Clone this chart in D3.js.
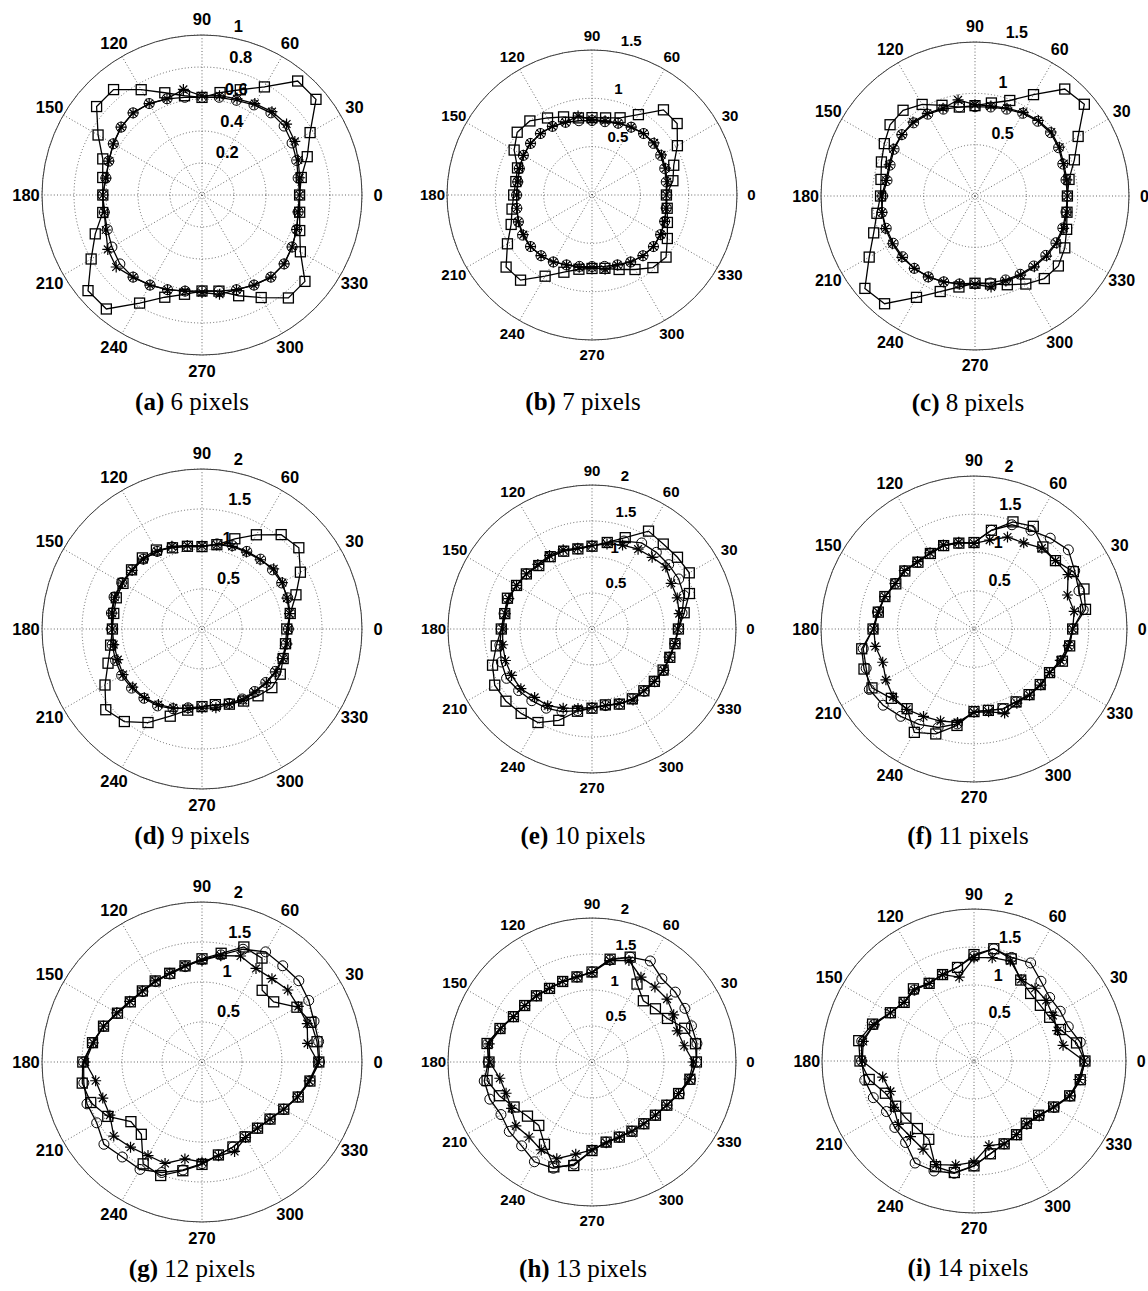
<!DOCTYPE html>
<html lang="en">
<head>
<meta charset="UTF-8">
<script src="https://d3js.org/d3.v7.min.js"></script>
<title>Polar plots</title>
<style>
  body { margin: 0; background: #fff; }
  .ang, .rtick { font-family: "Liberation Sans", Arial, sans-serif; font-weight: bold; fill: #000; }
  .cap { font-family: "Liberation Serif", "Times New Roman", serif; font-size: 25px; fill: #000; }
</style>
</head>
<body>
<svg id="fig" width="1148" height="1291"></svg>
<script>

// measured directions (degrees)
var angles = [0,10,20,30,40,50,60,70,80,90,100,110,120,130,140,150,160,170,
              180,190,200,210,220,230,240,250,260,270,280,290,300,310,320,330,340,350];

// angular tick labels
var angleTicks = [0,30,60,90,120,150,180,210,240,270,300,330];

// radial tick labels
var rTicks1 = [0.2,0.4,0.6,0.8,1];
var rTicks15 = [0.5,1,1.5];
var rTicks2 = [0.5,1,1.5,2];

// captions
var capLetters = ["(a)","(b)","(c)","(d)","(e)","(f)","(g)","(h)","(i)"];
var capTexts = ["6 pixels","7 pixels","8 pixels","9 pixels","10 pixels","11 pixels","12 pixels","13 pixels","14 pixels"];

// series per panel: sq = squares, ci = circles, st = stars
var sqA = [0.61,0.63,0.70,0.78,0.93,0.93,0.78,0.70,0.65,0.61,0.63,0.68,0.76,0.86,0.86,0.75,0.66,0.63,0.62,0.63,0.71,0.80,0.93,0.93,0.78,0.68,0.63,0.60,0.61,0.67,0.74,0.84,0.84,0.71,0.65,0.62];
var ciA = [0.61,0.61,0.63,0.65,0.67,0.67,0.65,0.63,0.62,0.61,0.62,0.64,0.66,0.67,0.66,0.64,0.62,0.61,0.62,0.62,0.63,0.65,0.67,0.67,0.65,0.63,0.61,0.60,0.61,0.63,0.65,0.67,0.67,0.65,0.63,0.61];
var stA = [0.61,0.62,0.64,0.67,0.69,0.68,0.66,0.64,0.63,0.62,0.67,0.64,0.66,0.67,0.66,0.64,0.62,0.61,0.62,0.62,0.64,0.68,0.70,0.67,0.65,0.63,0.61,0.61,0.63,0.63,0.65,0.67,0.67,0.65,0.63,0.61];

var sqB = [0.77,0.85,0.90,1.02,1.15,1.15,0.96,0.85,0.81,0.80,0.81,0.86,0.92,1.00,1.01,0.93,0.82,0.80,0.81,0.84,0.89,1.01,1.16,1.15,0.97,0.85,0.78,0.76,0.77,0.82,0.89,0.98,1.00,0.90,0.83,0.79];
var ciB = [0.77,0.78,0.80,0.82,0.83,0.83,0.81,0.79,0.77,0.77,0.78,0.80,0.82,0.83,0.83,0.82,0.80,0.78,0.78,0.79,0.81,0.83,0.83,0.82,0.80,0.77,0.75,0.74,0.75,0.77,0.80,0.82,0.83,0.82,0.80,0.78];
var stB = [0.77,0.79,0.81,0.83,0.84,0.83,0.81,0.79,0.78,0.78,0.83,0.80,0.82,0.83,0.83,0.82,0.80,0.78,0.78,0.79,0.81,0.82,0.83,0.82,0.80,0.77,0.76,0.75,0.78,0.77,0.80,0.82,0.83,0.82,0.80,0.78];

var sqC = [0.90,0.93,1.03,1.16,1.39,1.36,1.14,0.99,0.92,0.88,0.88,0.94,1.03,1.09,1.08,1.02,0.97,0.93,0.92,0.97,1.05,1.19,1.40,1.37,1.14,0.99,0.90,0.85,0.87,0.92,0.99,1.05,1.06,1.01,0.95,0.91];
var ciC = [0.90,0.90,0.91,0.94,0.96,0.95,0.93,0.90,0.88,0.87,0.88,0.90,0.92,0.93,0.93,0.91,0.88,0.87,0.90,0.92,0.92,0.92,0.92,0.92,0.91,0.89,0.87,0.85,0.86,0.87,0.88,0.89,0.90,0.91,0.91,0.90];
var stC = [0.90,0.91,0.92,0.95,0.97,0.96,0.94,0.91,0.89,0.89,0.95,0.91,0.93,0.94,0.93,0.92,0.89,0.88,0.91,0.92,0.93,0.93,0.93,0.92,0.91,0.89,0.87,0.86,0.90,0.88,0.89,0.90,0.91,0.92,0.92,0.91];

var sqD = [1.06,1.12,1.25,1.42,1.58,1.54,1.36,1.20,1.07,1.03,1.05,1.08,1.14,1.16,1.15,1.14,1.14,1.12,1.12,1.16,1.25,1.40,1.57,1.51,1.35,1.16,1.03,0.97,0.96,1.00,1.04,1.09,1.14,1.13,1.08,1.06];
var ciD = [1.08,1.12,1.14,1.15,1.15,1.14,1.12,1.11,1.08,1.03,1.05,1.09,1.12,1.14,1.15,1.16,1.17,1.15,1.13,1.14,1.15,1.16,1.15,1.13,1.11,1.06,1.00,0.97,0.97,0.99,1.01,1.02,1.04,1.06,1.07,1.07];
var stD = [1.08,1.11,1.13,1.16,1.17,1.13,1.11,1.10,1.07,1.04,1.06,1.10,1.12,1.14,1.14,1.15,1.16,1.14,1.12,1.12,1.12,1.14,1.13,1.12,1.09,1.05,1.01,0.99,1.00,1.00,1.03,1.03,1.05,1.07,1.08,1.08];

var sqE = [1.20,1.30,1.44,1.56,1.55,1.54,1.57,1.35,1.22,1.15,1.13,1.15,1.16,1.15,1.19,1.21,1.25,1.23,1.26,1.35,1.47,1.56,1.56,1.53,1.50,1.35,1.16,1.10,1.07,1.11,1.12,1.12,1.13,1.14,1.15,1.17];
var ciE = [1.20,1.27,1.36,1.39,1.39,1.39,1.38,1.30,1.22,1.15,1.13,1.15,1.16,1.15,1.19,1.21,1.24,1.24,1.26,1.30,1.34,1.37,1.33,1.30,1.27,1.22,1.15,1.10,1.08,1.11,1.12,1.13,1.14,1.15,1.15,1.17];
var stE = [1.19,1.23,1.26,1.27,1.34,1.30,1.28,1.24,1.20,1.16,1.14,1.17,1.18,1.17,1.19,1.21,1.23,1.22,1.24,1.26,1.28,1.29,1.29,1.24,1.23,1.17,1.12,1.09,1.08,1.10,1.14,1.12,1.13,1.15,1.14,1.17];

var sqF = [1.29,1.48,1.53,1.50,1.39,1.40,1.55,1.49,1.31,1.13,1.14,1.16,1.14,1.14,1.18,1.18,1.24,1.27,1.32,1.49,1.53,1.54,1.41,1.36,1.56,1.46,1.28,1.08,1.08,1.11,1.10,1.12,1.13,1.14,1.23,1.27];
var ciF = [1.29,1.45,1.46,1.52,1.61,1.55,1.49,1.45,1.31,1.13,1.14,1.16,1.14,1.14,1.18,1.19,1.24,1.28,1.32,1.47,1.50,1.58,1.55,1.49,1.44,1.37,1.26,1.08,1.08,1.11,1.10,1.12,1.13,1.14,1.22,1.26];
var stF = [1.29,1.33,1.30,1.42,1.39,1.38,1.30,1.28,1.18,1.12,1.15,1.17,1.15,1.15,1.19,1.19,1.24,1.27,1.31,1.31,1.27,1.33,1.38,1.37,1.32,1.28,1.24,1.09,1.10,1.17,1.12,1.13,1.14,1.14,1.20,1.25];

var sqG = [1.46,1.46,1.45,1.37,1.17,1.17,1.50,1.53,1.38,1.29,1.22,1.18,1.17,1.16,1.17,1.22,1.31,1.39,1.49,1.52,1.48,1.36,1.16,1.18,1.47,1.51,1.38,1.28,1.18,1.13,1.08,1.08,1.11,1.18,1.28,1.37];
var ciG = [1.47,1.48,1.49,1.54,1.58,1.57,1.59,1.50,1.36,1.28,1.21,1.17,1.16,1.15,1.17,1.22,1.31,1.39,1.48,1.50,1.53,1.52,1.60,1.55,1.55,1.47,1.37,1.27,1.18,1.13,1.08,1.08,1.11,1.18,1.28,1.37];
var stG = [1.45,1.34,1.40,1.39,1.40,1.36,1.35,1.41,1.35,1.27,1.22,1.18,1.17,1.16,1.18,1.23,1.31,1.38,1.46,1.35,1.32,1.33,1.44,1.39,1.35,1.35,1.23,1.25,1.19,1.19,1.09,1.08,1.11,1.18,1.27,1.36];

var sqH = [1.45,1.46,1.37,1.21,1.15,1.11,1.25,1.55,1.45,1.25,1.20,1.19,1.18,1.20,1.22,1.26,1.36,1.48,1.43,1.48,1.37,1.25,1.17,1.15,1.32,1.55,1.46,1.23,1.13,1.11,1.11,1.12,1.15,1.20,1.28,1.38];
var ciH = [1.45,1.48,1.47,1.49,1.51,1.51,1.62,1.55,1.44,1.25,1.20,1.19,1.18,1.20,1.22,1.26,1.36,1.47,1.44,1.52,1.51,1.46,1.50,1.52,1.60,1.57,1.44,1.23,1.13,1.11,1.11,1.12,1.15,1.20,1.29,1.39];
var stH = [1.41,1.30,1.26,1.31,1.36,1.36,1.36,1.50,1.43,1.24,1.20,1.19,1.18,1.20,1.22,1.26,1.35,1.45,1.42,1.30,1.27,1.29,1.38,1.36,1.41,1.43,1.30,1.22,1.14,1.11,1.11,1.12,1.15,1.20,1.28,1.37];

var sqI = [1.46,1.37,1.21,1.15,1.14,1.16,1.23,1.43,1.50,1.40,1.25,1.21,1.18,1.24,1.20,1.27,1.42,1.54,1.50,1.40,1.24,1.19,1.17,1.16,1.19,1.48,1.49,1.38,1.24,1.16,1.12,1.07,1.11,1.21,1.34,1.42];
var ciI = [1.46,1.42,1.32,1.31,1.30,1.37,1.49,1.45,1.50,1.38,1.25,1.21,1.18,1.22,1.20,1.27,1.40,1.50,1.48,1.46,1.41,1.33,1.36,1.40,1.55,1.54,1.50,1.38,1.24,1.16,1.12,1.08,1.12,1.22,1.35,1.42];
var stI = [1.45,1.19,1.17,1.20,1.24,1.25,1.24,1.40,1.38,1.36,1.12,1.21,1.18,1.22,1.20,1.27,1.40,1.48,1.47,1.22,1.17,1.22,1.30,1.30,1.34,1.45,1.39,1.33,1.13,1.16,1.12,1.08,1.12,1.21,1.34,1.40];

// panel table built from the arrays above
var panels = [
    {ticks: rTicks1,  sq: sqA, ci: ciA, st: stA},
    {ticks: rTicks15, sq: sqB, ci: ciB, st: stB},
    {ticks: rTicks15, sq: sqC, ci: ciC, st: stC},
    {ticks: rTicks2,  sq: sqD, ci: ciD, st: stD},
    {ticks: rTicks2,  sq: sqE, ci: ciE, st: stE},
    {ticks: rTicks2,  sq: sqF, ci: ciF, st: stF},
    {ticks: rTicks2,  sq: sqG, ci: ciG, st: stG},
    {ticks: rTicks2,  sq: sqH, ci: ciH, st: stH},
    {ticks: rTicks2,  sq: sqI, ci: ciI, st: stI}
];

// placement of each polar axes on the page
var layout = [
    {cx: 202, cy: 195,  R: 160, fs: 16.5, capX: 192},
    {cx: 592, cy: 195,  R: 145, fs: 15,   capX: 583},
    {cx: 975, cy: 196,  R: 154, fs: 16,   capX: 968},
    {cx: 202, cy: 629,  R: 160, fs: 16.5, capX: 192},
    {cx: 592, cy: 629,  R: 144, fs: 15,   capX: 583},
    {cx: 974, cy: 629,  R: 153, fs: 16,   capX: 968},
    {cx: 202, cy: 1062, R: 160, fs: 16.5, capX: 192},
    {cx: 592, cy: 1062, R: 144, fs: 15,   capX: 583},
    {cx: 974, cy: 1061, R: 152, fs: 16,   capX: 968}
];

var svg = d3.select("#fig");

// degrees (counter-clockwise from east) -> d3 radial angle (clockwise from north)
var theta = d3.scaleLinear().domain([0, 360]).range([Math.PI / 2, Math.PI / 2 - 2 * Math.PI]);

var starPath = "M-5.5,0H5.5M0,-5.5V5.5M-3.9,-3.9L3.9,3.9M-3.9,3.9L3.9,-3.9";

panels.forEach(function(p, i) {
    var L = layout[i];
    var rmax = p.ticks[p.ticks.length - 1];
    var rinc = p.ticks[0];
    var r = d3.scaleLinear().domain([0, rmax]).range([0, L.R]);

    var g = svg.append("g")
        .attr("transform", "translate(" + L.cx + "," + L.cy + ")");

    // outer solid circle
    g.append("circle")
        .attr("r", L.R)
        .attr("fill", "none")
        .attr("stroke", "#3a3a3a")
        .attr("stroke-width", 1);

    // dotted rings
    g.selectAll(".ring")
        .data(p.ticks)
        .enter().append("circle")
        .attr("r", function(d) { return r(d); })
        .attr("fill", "none")
        .attr("stroke", "#555")
        .attr("stroke-width", 0.9)
        .attr("stroke-dasharray", "1,2.2");

    // dotted spokes
    g.selectAll(".spoke")
        .data(angleTicks.filter(function(d) { return d < 180; }))
        .enter().append("line")
        .each(function(d) {
            var a = d3.pointRadial(theta(d), L.R);
            var b = d3.pointRadial(theta(d + 180), L.R);
            d3.select(this)
                .attr("x1", a[0]).attr("y1", a[1])
                .attr("x2", b[0]).attr("y2", b[1]);
        })
        .attr("stroke", "#555")
        .attr("stroke-width", 0.9)
        .attr("stroke-dasharray", "1,2.2");

    // angle labels
    g.selectAll(".ang")
        .data(angleTicks)
        .enter().append("text")
        .attr("class", "ang")
        .attr("font-size", L.fs)
        .attr("text-anchor", "middle")
        .attr("dy", "0.36em")
        .attr("x", function(d) { return d3.pointRadial(theta(d), 1.1 * L.R)[0]; })
        .attr("y", function(d) { return d3.pointRadial(theta(d), 1.1 * L.R)[1]; })
        .text(function(d) { return d; });

    // radial labels at 82 degrees
    g.selectAll(".rtick")
        .data(p.ticks)
        .enter().append("text")
        .attr("class", "rtick")
        .attr("font-size", L.fs)
        .attr("dx", "0.556em")
        .attr("dy", "-0.21em")
        .attr("x", function(d) { return d3.pointRadial(theta(82), r(d + rinc / 20))[0]; })
        .attr("y", function(d) { return d3.pointRadial(theta(82), r(d + rinc / 20))[1]; })
        .text(function(d) { return d; });

    var line = d3.lineRadial()
        .angle(function(d, k) { return theta(angles[k]); })
        .radius(function(d) { return r(d); })
        .curve(d3.curveLinearClosed);

    [p.sq, p.ci, p.st].forEach(function(s) {
        g.append("path")
            .datum(s)
            .attr("d", line)
            .attr("fill", "none")
            .attr("stroke", "#000")
            .attr("stroke-width", 1.3);
    });

    function pos(d, k) { return d3.pointRadial(theta(angles[k]), r(d)); }

    // squares
    g.selectAll(".sq")
        .data(p.sq)
        .enter().append("rect")
        .attr("x", function(d, k) { return pos(d, k)[0] - 5; })
        .attr("y", function(d, k) { return pos(d, k)[1] - 5; })
        .attr("width", 10).attr("height", 10)
        .attr("fill", "none")
        .attr("stroke", "#000")
        .attr("stroke-width", 1.3);

    // circles
    g.selectAll(".ci")
        .data(p.ci)
        .enter().append("circle")
        .attr("cx", function(d, k) { return pos(d, k)[0]; })
        .attr("cy", function(d, k) { return pos(d, k)[1]; })
        .attr("r", 5)
        .attr("fill", "none")
        .attr("stroke", "#000")
        .attr("stroke-width", 1);

    // stars
    g.selectAll(".st")
        .data(p.st)
        .enter().append("path")
        .attr("d", starPath)
        .attr("transform", function(d, k) { var q = pos(d, k); return "translate(" + q[0] + "," + q[1] + ")"; })
        .attr("fill", "none")
        .attr("stroke", "#000")
        .attr("stroke-width", 1.2);

    // caption
    var cap = svg.append("text")
        .attr("class", "cap")
        .attr("x", L.capX)
        .attr("y", L.cy + 215)
        .attr("text-anchor", "middle");
    cap.append("tspan").attr("font-weight", "bold").text(capLetters[i]);
    cap.append("tspan").text(" " + capTexts[i]);
});

</script>
</body>
</html>
